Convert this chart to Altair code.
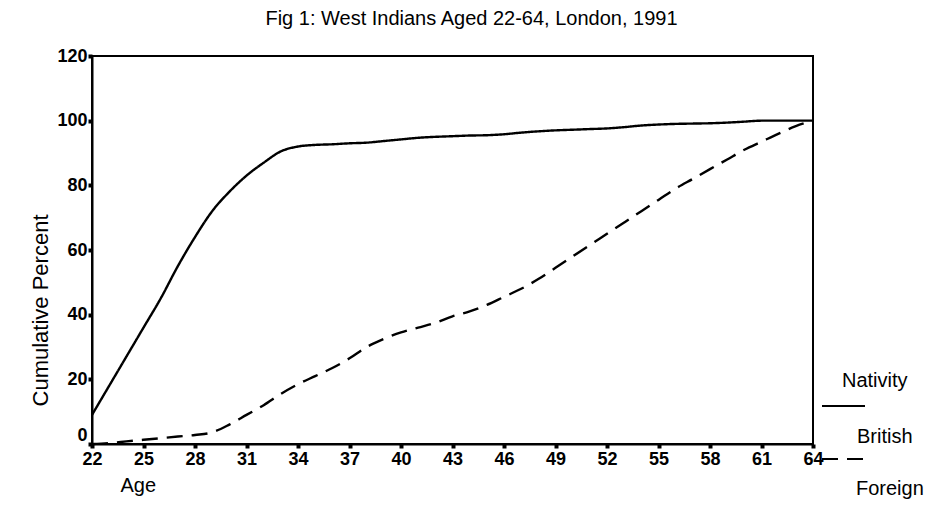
import altair as alt
import pandas as pd

# ---- data ----
ages = list(range(22, 65))
british = [9, 18, 27, 36, 45, 55, 64, 72, 78, 83, 87, 90.5, 92, 92.5, 92.7, 93,
           93.2, 93.7, 94.2, 94.7, 95, 95.2, 95.4, 95.5, 95.8, 96.3, 96.7, 97,
           97.2, 97.4, 97.6, 98, 98.5, 98.8, 99, 99.1, 99.2, 99.4, 99.7, 100,
           100, 100, 100]
foreign = [0, 0.3, 0.8, 1.3, 1.8, 2.3, 2.8, 3.6, 6, 9, 12, 15.5, 18.5, 21,
           23.5, 26.5, 30, 32.5, 34.5, 36, 37.5, 39.5, 41, 43, 45.5, 48, 51,
           54.5, 58, 61.5, 65, 68.5, 72, 75.5, 79, 82, 85, 88, 91, 93.5, 96,
           98.3, 100]
series_names = ["British", "Foreign"]
legend_title = "Nativity"
x_ticks = [22, 25, 28, 31, 34, 37, 40, 43, 46, 49, 52, 55, 58, 61, 64]
y_ticks = [0, 20, 40, 60, 80, 100, 120]
title_text = "Fig 1: West Indians Aged 22-64, London, 1991"

df = pd.DataFrame({
    "Age": ages + ages,
    "Percent": british + foreign,
    "Nativity": [series_names[0]] * len(ages) + [series_names[1]] * len(ages),
})

FONT = "Liberation Sans"

lines = alt.Chart(df).mark_line(interpolate="monotone", color="black", strokeWidth=2.4).encode(
    x=alt.X("Age:Q",
            scale=alt.Scale(domain=[22, 64], nice=False, zero=False),
            axis=alt.Axis(values=x_ticks, title="Age", titleX=28, titleY=41,
                          titleAlign="left", titleBaseline="middle",
                          titleFontSize=20, titleFontWeight="normal",
                          labelPadding=2, labelFlush=False)),
    y=alt.Y("Percent:Q",
            scale=alt.Scale(domain=[0, 120], nice=False),
            axis=alt.Axis(values=y_ticks, title="Cumulative Percent",
                          titleX=-52, titleY=254, titleAngle=270,
                          titleAlign="center", titleBaseline="middle",
                          titleFontSize=22, titleFontWeight="normal",
                          labelPadding=1,
                          labelBaseline={"condition": {"test": "datum.value === 0", "value": "bottom"},
                                         "value": "middle"})),
    strokeDash=alt.StrokeDash("Nativity:N",
                              scale=alt.Scale(domain=series_names, range=[[1, 0], [16, 9]]),
                              legend=None),
)

LEG_FS = 20
leg_title = alt.Chart(pd.DataFrame({"t": [legend_title]})).mark_text(
    align="left", baseline="middle", fontSize=LEG_FS, font=FONT, color="black"
).encode(text="t:N", x=alt.value(750), y=alt.value(325))

leg_lab1 = alt.Chart(pd.DataFrame({"t": [series_names[0]]})).mark_text(
    align="left", baseline="middle", fontSize=LEG_FS, font=FONT, color="black"
).encode(text="t:N", x=alt.value(765), y=alt.value(381))

leg_lab2 = alt.Chart(pd.DataFrame({"t": [series_names[1]]})).mark_text(
    align="left", baseline="middle", fontSize=LEG_FS, font=FONT, color="black"
).encode(text="t:N", x=alt.value(764), y=alt.value(433))

leg_rule1 = alt.Chart(pd.DataFrame({"t": [series_names[0]]})).mark_rule(
    color="black", strokeWidth=2
).encode(x=alt.value(730), x2=alt.value(773), y=alt.value(350))

leg_rule2 = alt.Chart(pd.DataFrame({"t": [series_names[1]]})).mark_rule(
    color="black", strokeWidth=2, strokeDash=[16, 9]
).encode(x=alt.value(730), x2=alt.value(773), y=alt.value(403))

chart = alt.layer(lines, leg_title, leg_lab1, leg_lab2, leg_rule1, leg_rule2).properties(
    width=721,
    height=388,
    padding={"left": 84, "top": 48, "right": 122, "bottom": 70},
    autosize=alt.AutoSizeParams(type="none"),
    title=alt.TitleParams(title_text, fontSize=20, fontWeight="normal", font=FONT,
                          anchor="middle", dx=19, offset=18, color="black"),
    background="white",
).configure(font=FONT).configure_view(
    stroke="black", strokeWidth=2
).configure_axis(
    grid=False,
    domainColor="black", domainWidth=2,
    tickColor="black", tickSize=4, tickWidth=4,
    labelColor="black", labelFontSize=18, labelFont=FONT, labelFontWeight="bold",
    titleColor="black", titleFont=FONT,
)

chart.save("out.html", embed_options={"renderer": "svg", "actions": False})
